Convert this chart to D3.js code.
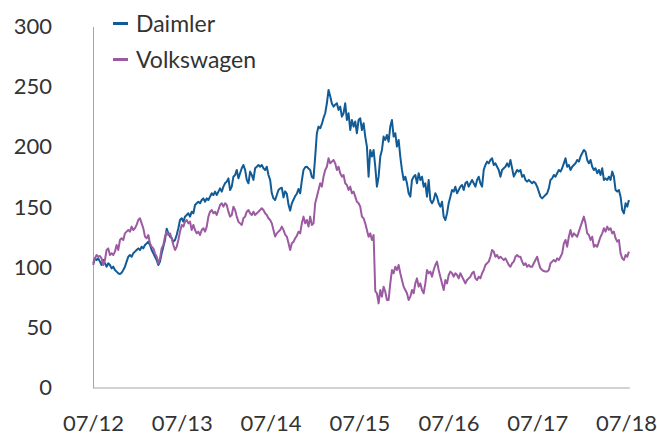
<!DOCTYPE html>
<html>
<head>
<meta charset="utf-8">
<script src="https://cdn.jsdelivr.net/npm/d3@7"></script>
<style>
  html, body { margin: 0; padding: 0; background: #fff; }
  svg { display: block; font-family: Lato, 'Open Sans', sans-serif; }
</style>
</head>
<body>
<svg id="chart" width="657" height="434"></svg>
<script>
// indexed prices (07/2012 = 100), roughly weekly readings
const seriesNames = ['Daimler', 'Volkswagen'];
const firstDate = '2012-07-02';
const lastDate = '2018-07-13';
const xTickLabels = ['07/12', '07/13', '07/14', '07/15', '07/16', '07/17', '07/18'];
const yTicks = [0, 50, 100, 150, 200, 250, 300];

const daimler = [
  103.2, 107.3, 105.9, 107.3, 104.6, 101.8, 105.9, 103.2, 100.4, 103.2,
  101.8, 99.0, 100.4, 97.6, 96.3, 94.9, 94.3, 95.4, 97.6, 100.4,
  104.6, 108.7, 110.1, 108.7, 111.5, 112.9, 114.3, 115.6, 114.3, 117,
  115.6, 118.4, 119.8, 121.2, 118.4, 114.3, 111.5, 108.7, 105.9, 101.8,
  104.6, 111.5, 117, 122.6, 132, 128.1, 125.4, 124, 121.2, 122.6,
  126.7, 132.3, 139.2, 140.6, 137.8, 142, 143.4, 144.8, 142, 146.1,
  144.8, 151.7, 153.1, 154.4, 153.1, 155.8, 157.2, 154.4, 157.2, 155.8,
  158.6, 161.4, 160, 162.8, 160, 162.8, 165.5, 162.8, 166.9, 169.7,
  171.1, 173.8, 164.1, 166.9, 175.2, 176.6, 180.8, 173.8, 178, 182.2,
  184.9, 180.8, 172.5, 169.7, 179.4, 176.6, 172.5, 182.2, 183.5, 184.9,
  183.5, 184.9, 182.2, 180.8, 183.5, 176.6, 172.5, 161.4, 157.2, 155.8,
  160, 164.1, 165.5,
  166, 158, 163, 161, 152, 147, 153, 156, 159, 161, 165,
  161.4, 172, 180.8, 183, 183.5, 182, 180.8, 175, 174, 191.9,
  211.3, 216.8, 215.4, 219, 224, 227.9, 236.2, 247.3, 242, 236,
  233.4, 235, 236.2, 230.7, 233.4, 225.1, 227.9, 236.2, 222.3, 227.9,
  214, 222.3, 216.8, 221, 211.3, 222.3, 223.7, 214, 219.6, 208.5,
  200.2, 175.2, 197.4, 191.9, 197.4, 183.5, 166.9, 175.2, 191.9, 197.4,
  208.5, 205.7, 209.9, 204.3, 216.8, 222.3, 208.5, 211.3, 200.2, 205.7,
  191.9, 180.8, 172.5, 175.2, 169.7, 161.4, 158.6, 172.5, 175.2, 176.6,
  169.7, 178, 172.5, 175.2, 166.9, 169.7, 158.6, 172.5, 155.8, 153.1,
  155.8, 161.4, 158.6, 153.1, 150.3, 154.4, 142, 139.2, 144.7, 153.1,
  158.6, 164.1, 162.8, 166.9, 161.4, 164.1, 166.9, 168.3, 164.1, 169.7,
  171.1, 166.9, 169.7, 172.5, 169.7, 166.9, 172.5, 175.2, 169.7, 166.9,
  180.8, 184.9, 187.7, 186.3, 189.1, 190.5, 184.9, 186.3, 183.5, 180.8,
  175.2, 180.8, 182.2, 183.5, 186.3, 183.5, 189.1, 182.2, 175.2, 178,
  180.8, 179.4, 180.8, 175.2, 176.6, 172.5, 171.1, 172.5, 171.1, 169.7,
  171.1, 169.7, 166.9, 162.8, 158.6, 157.2, 158.6, 160, 161.4, 165.5,
  172.5, 173.8, 176.6, 175.2, 178, 180.8, 179.4, 182.2, 186.3, 190.5,
  183.5, 184.9, 180.8, 183.5, 184.9, 186.3, 189.1, 187.7, 191.9, 194.6,
  197.4, 196, 189.1, 186.3, 189.1, 183.5, 180.8, 182.2, 178, 180.8,
  176.6, 182.2, 172.5, 173.8, 172.5, 175.2, 172.5, 179.4, 175.2, 164.1,
  162.8, 164.1, 158.6, 147.5, 144.7, 153.1, 150.3, 155.8
];

const volkswagen = [
  101.8, 107.3, 110.1, 108.7, 109.3, 107.3, 101.8, 105.9, 114.3, 115.6,
  110.1, 111.5, 110.1, 112.9, 118.4, 114.3, 122.6, 124, 122.6, 128.1,
  129.5, 130.9, 129.5, 133.7, 130.9, 132.3, 135.1, 139.2, 140.6, 136.4,
  132.3, 125.4, 124, 126.7, 119.8, 117, 115.6, 111.5, 108.7, 103.2,
  107.3, 115.6, 118.4, 125.4, 129.5, 126.7, 128.1, 124, 118.4, 114.3,
  117, 122.6, 129.5, 135.1, 133.7, 137.8, 139.2, 136.4, 137.8, 130.9,
  135.1, 130.9, 128.1, 129.5, 126.7, 130.9, 132.3, 129.5, 133.7, 142,
  146.1, 147.5, 144.8, 146.1, 143.4, 147.5, 151.7, 153.1, 150.3, 153.1,
  151.7, 146.1, 142, 143.4, 150.3, 147.5, 142, 137.8, 136.4, 135.1,
  140.6, 142, 146.1, 147.5, 144.8, 143.4, 146.1, 143.4, 144.8, 146.1,
  147.5, 148.9, 147.5, 144.8, 143.4, 140.6, 139.2, 136.4, 130.9, 125.4,
  128.1, 129.5, 130.9,
  133.7, 131, 127, 125.4, 120, 114.3, 119.9, 121, 124, 126, 129.5,
  128.1, 136.4, 142, 136.4, 139.2, 133.7, 142, 135.1, 136.4, 153.1,
  158.6, 164.1, 169.7, 166.9, 175.2, 180.8, 183.5, 190.5, 186.3, 187.7,
  189.1, 186.3, 180.8, 183.5, 178, 175.2, 176.6, 169.7, 168.3, 164.1,
  166.9, 161.4, 162.8, 158.6, 154.4, 153.1, 150.3, 142, 140.6, 136.4,
  130.9, 125.3, 128.1, 122.6, 126.7, 80, 78.3, 69.9, 81, 75.5,
  83.8, 79.6, 72.7, 72.7, 86.5, 97.6, 94.9, 100.4, 97.6, 101.8,
  94.9, 89.3, 83.8, 81, 78.3, 72.7, 75.5, 81, 78.3, 86.5,
  90.7, 83.8, 86.5, 81, 78.3, 86.5, 97.6, 94.9, 96.3, 92.1,
  97.6, 101.8, 104.6, 97.6, 92.1, 86.5, 81, 89.3, 86.5, 93.5,
  96.3, 94.9, 92.1, 94.9, 93.5, 90.7, 94.9, 92.1, 89.3, 86.5,
  89.3, 90.7, 92.1, 94.9, 96.3, 90.7, 89.3, 92.1, 90.7, 94.9,
  97.6, 101.8, 103.2, 104.6, 108.7, 114.3, 112.9, 108.7, 110.1, 107.3,
  108.7, 107.3, 106, 107.3, 104.6, 101.8, 100.4, 103.2, 104.6, 108.7,
  110.1, 108.7, 108.7, 104.6, 101.8, 103.2, 100.4, 101.8, 100.4, 100.4,
  103.2, 106, 108.7, 103.2, 99, 97.6, 96.8, 96.3, 96.3, 97.6,
  103.2, 104.6, 106, 104.6, 107.3, 106, 108.7, 111.5, 119.8, 122.6,
  117, 125.3, 130.9, 125.3, 128.1, 126.7, 125.3, 129.5, 133.7, 137.8,
  142, 136.4, 128.1, 126.7, 122.6, 125.3, 117, 118.4, 117, 121.2,
  125.3, 128.1, 132.3, 129.5, 133.7, 131, 132.3, 128.1, 129.5, 124,
  121.2, 122.6, 111.5, 107.3, 106, 110.1, 108.7, 112.9
];

drawChart();

function drawChart() {
  const svg = d3.select('svg#chart');

  // No Magic Number !
  const plotLeft = 93,
    plotTop = 26.5,
    plotBottom = 387.5,
    tickFirstX = 93,
    tickLastX = 626,
    axisColor = '#a6a6a6',
    textColor = '#333333',
    fontSize = 22,
    legendFontSize = 23,
    colors = ['#115b96', '#9c5aa2'];

  const parseDay = d3.timeParse('%Y-%m-%d');
  const parseTick = d3.timeParse('%m/%y');
  const start = parseDay(firstDate);
  const end = parseDay(lastDate);
  const step = (end - start) / (daimler.length - 1);
  const dates = daimler.map((_, i) => new Date(+start + i * step));
  const tickDates = xTickLabels.map(parseTick);

  const x = d3
    .scaleTime()
    .domain([tickDates[0], tickDates[tickDates.length - 1]])
    .range([tickFirstX, tickLastX]);
  const y = d3
    .scaleLinear()
    .domain([0, 300])
    .range([plotBottom, plotTop]);

  // y axis
  const yAxis = svg
    .append('g')
    .attr('transform', `translate(${plotLeft},0)`)
    .call(
      d3
        .axisLeft(y)
        .tickValues(yTicks)
        .tickSize(0)
        .tickPadding(41)
    );
  yAxis.select('.domain').attr('stroke', axisColor);
  yAxis
    .selectAll('text')
    .attr('fill', textColor)
    .attr('font-size', fontSize)
    .attr('font-family', 'Lato, sans-serif');

  // x axis
  const xAxis = svg
    .append('g')
    .attr('transform', `translate(0,${plotBottom})`)
    .call(
      d3
        .axisBottom(x)
        .tickValues(tickDates)
        .tickFormat(d3.timeFormat('%m/%y'))
        .tickSize(0)
        .tickPadding(28)
    );
  xAxis.select('.domain').remove();
  xAxis
    .selectAll('text')
    .attr('fill', textColor)
    .attr('font-size', fontSize)
    .attr('font-family', 'Lato, sans-serif');
  svg
    .append('line')
    .attr('x1', plotLeft)
    .attr('x2', x(end) + 1)
    .attr('y1', plotBottom + 0.5)
    .attr('y2', plotBottom + 0.5)
    .attr('stroke', axisColor);

  // lines
  const line = d3
    .line()
    .x((d, i) => x(dates[i]))
    .y(d => y(d));

  [daimler, volkswagen].forEach((values, idx) => {
    svg
      .append('path')
      .datum(values)
      .attr('d', line)
      .attr('fill', 'none')
      .attr('stroke', colors[idx])
      .attr('stroke-width', 2)
      .attr('stroke-linejoin', 'round');
  });

  // legend
  const legendX = 113,
    legendY = 23.5,
    legendGap = 36,
    legendDash = 15;
  seriesNames.forEach((name, idx) => {
    const ly = legendY + idx * legendGap;
    svg
      .append('line')
      .attr('x1', legendX)
      .attr('x2', legendX + legendDash)
      .attr('y1', ly)
      .attr('y2', ly)
      .attr('stroke', colors[idx])
      .attr('stroke-width', 3);
    svg
      .append('text')
      .text(name)
      .attr('x', legendX + legendDash + 8)
      .attr('y', ly)
      .attr('dy', '0.35em')
      .attr('fill', textColor)
      .attr('font-size', legendFontSize);
  });
}
</script>
</body>
</html>
